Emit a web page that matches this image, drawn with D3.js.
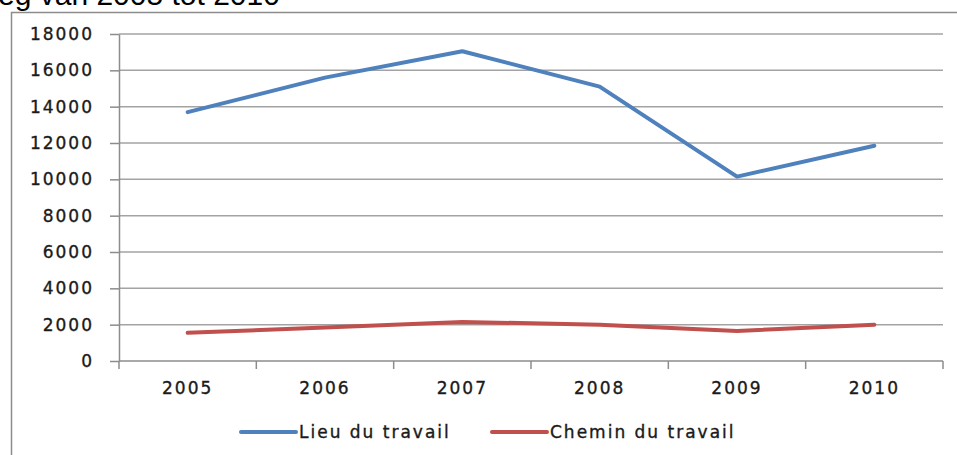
<!DOCTYPE html>
<html>
<head>
    <meta charset="utf-8" />
    <title>Lieu du travail / Chemin du travail</title>
    <style>
        body { margin: 0; background: #fff; }
        svg { display: block; }
        .lbl { font-family: "DejaVu Sans", sans-serif; font-size: 17px; letter-spacing: 2px; fill: #1a1a1a; stroke: #1a1a1a; stroke-width: 0.35px; }
    </style>
</head>
<body>
    <script src="https://cdn.jsdelivr.net/npm/d3@7"></script>
    <script>
    // data
    var years = ["2005", "2006", "2007", "2008", "2009", "2010"];
    var lieu = [13700, 15600, 17050, 15100, 10150, 11850];
    var chemin = [1550, 1850, 2150, 2000, 1650, 2000];
    var yTicks = [0, 2000, 4000, 6000, 8000, 10000, 12000, 14000, 16000, 18000];
    var seriesNames = ["Lieu du travail", "Chemin du travail"];
    var colors = ["#4F81BD", "#C0504D"];

    var width = 957,
        height = 455;

    var x = d3.scaleBand()
        .domain(years)
        .range([119, 943]);
    var y = d3.scaleLinear()
        .domain([0, 18000])
        .range([361, 34]);

    var svg = d3.select("body").append("svg")
        .attr("width", width)
        .attr("height", height);

    // title, cut off at the top of the picture
    svg.append("text")
        .attr("x", -2)
        .attr("y", 5)
        .style("font-family", "'Liberation Sans', Arial, sans-serif")
        .style("font-size", "30px")
        .style("fill", "#000")
        .text("eg van 2005 tot 2010");

    // chart frame
    svg.append("path")
        .attr("d", "M11.5," + (height + 5) + "V12.5H" + (width + 5))
        .attr("fill", "none")
        .attr("stroke", "#8c8c8c")
        .attr("stroke-width", 1.5);

    // gridlines
    svg.append("g")
        .selectAll("line")
        .data(yTicks.slice(1))
        .enter().append("line")
        .attr("x1", 119)
        .attr("x2", 943)
        .attr("y1", function(d) { return y(d); })
        .attr("y2", function(d) { return y(d); })
        .attr("stroke", "#a3a3a3")
        .attr("stroke-width", 1.5);

    // y axis
    var yAxis = d3.axisLeft(y)
        .tickValues(yTicks)
        .tickSize(9)
        .tickSizeOuter(0)
        .tickPadding(16)
        .tickFormat(function(d) { return String(d); });
    var gy = svg.append("g")
        .attr("transform", "translate(119,0)")
        .call(yAxis);
    gy.select(".domain").attr("stroke", "#8c8c8c").attr("stroke-width", 1.5);
    gy.selectAll(".tick line").attr("stroke", "#8c8c8c").attr("stroke-width", 1.5);
    gy.selectAll(".tick text").attr("class", "lbl").attr("font-family", null).attr("font-size", null).attr("fill", null);

    // x axis
    var gx = svg.append("g")
        .attr("transform", "translate(0,361)");
    gx.append("line")
        .attr("x1", 119).attr("x2", 943)
        .attr("stroke", "#8c8c8c").attr("stroke-width", 1.5);
    gx.selectAll("line.tk")
        .data(years.map(function(d) { return x(d); }).concat([x.range()[1]]))
        .enter().append("line")
        .attr("class", "tk")
        .attr("x1", function(d) { return d; })
        .attr("x2", function(d) { return d; })
        .attr("y1", 0).attr("y2", 8)
        .attr("stroke", "#8c8c8c").attr("stroke-width", 1.5);
    gx.selectAll("text")
        .data(years)
        .enter().append("text")
        .attr("class", "lbl")
        .attr("x", function(d) { return x(d) + x.bandwidth() / 2; })
        .attr("y", 27)
        .attr("dy", "0.35em")
        .attr("text-anchor", "middle")
        .text(function(d) { return d; });

    // lines
    var line = d3.line()
        .x(function(d, i) { return x(years[i]) + x.bandwidth() / 2; })
        .y(function(d) { return y(d); });

    svg.selectAll("path.series")
        .data([lieu, chemin])
        .enter().append("path")
        .attr("class", "series")
        .attr("d", line)
        .attr("fill", "none")
        .attr("stroke", function(d, i) { return colors[i]; })
        .attr("stroke-width", 4)
        .attr("stroke-linejoin", "round")
        .attr("stroke-linecap", "round");

    // legend
    var legendX = [241, 492];
    var leg = svg.selectAll("g.legend")
        .data(seriesNames)
        .enter().append("g")
        .attr("class", "legend")
        .attr("transform", function(d, i) { return "translate(" + legendX[i] + ",432)"; });
    leg.append("line")
        .attr("x1", 0).attr("x2", 55)
        .attr("stroke", function(d, i) { return colors[i]; })
        .attr("stroke-width", 4)
        .attr("stroke-linecap", "round");
    leg.append("text")
        .attr("class", "lbl")
        .attr("x", 58)
        .attr("dy", "0.35em")
        .text(function(d) { return d; });
    </script>
</body>
</html>
